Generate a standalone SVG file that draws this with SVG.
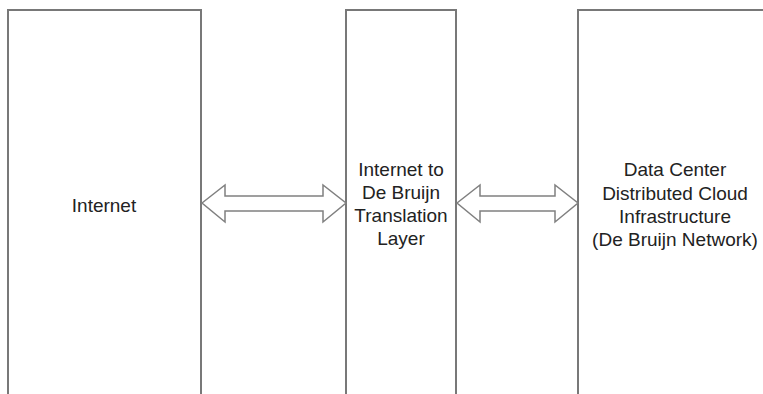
<svg xmlns="http://www.w3.org/2000/svg" width="763" height="394" viewBox="0 0 763 394">
  <style>
    .box { fill: #ffffff; stroke: #787878; stroke-width: 2; }
    .arrow { fill: #ffffff; stroke: #808080; stroke-width: 1.5; stroke-linejoin: miter; }
    .lbl { font-family: "Liberation Sans", Arial, Helvetica, sans-serif; font-size: 19px; fill: #222222; text-anchor: middle; }
  </style>
  <rect x="0" y="0" width="763" height="394" fill="#ffffff"/>
  <g id="node-internet">
    <rect class="box" x="8" y="10" width="193" height="400"/>
    <text class="lbl" x="104" y="212">Internet</text>
  </g>
  <g id="node-translation">
    <rect class="box" x="346" y="10" width="110" height="400"/>
    <text class="lbl" x="401" y="176">Internet to</text>
    <text class="lbl" x="401" y="199">De Bruijn</text>
    <text class="lbl" x="401" y="222">Translation</text>
    <text class="lbl" x="401" y="245">Layer</text>
  </g>
  <g id="node-datacenter">
    <rect class="box" x="578" y="10" width="220" height="400"/>
    <text class="lbl" x="675" y="176">Data Center</text>
    <text class="lbl" x="675" y="200">Distributed Cloud</text>
    <text class="lbl" x="675" y="223">Infrastructure</text>
    <text class="lbl" x="675" y="246">(De Bruijn Network)</text>
  </g>
  <g id="connectors">
    <polygon class="arrow" points="202,203 225,185 225,196 323,196 323,185 346,203 323,222 323,211 225,211 225,222"/>
    <polygon class="arrow" points="457,203 480,185 480,196 555,196 555,185 578,203 555,222 555,211 480,211 480,222"/>
  </g>
</svg>
